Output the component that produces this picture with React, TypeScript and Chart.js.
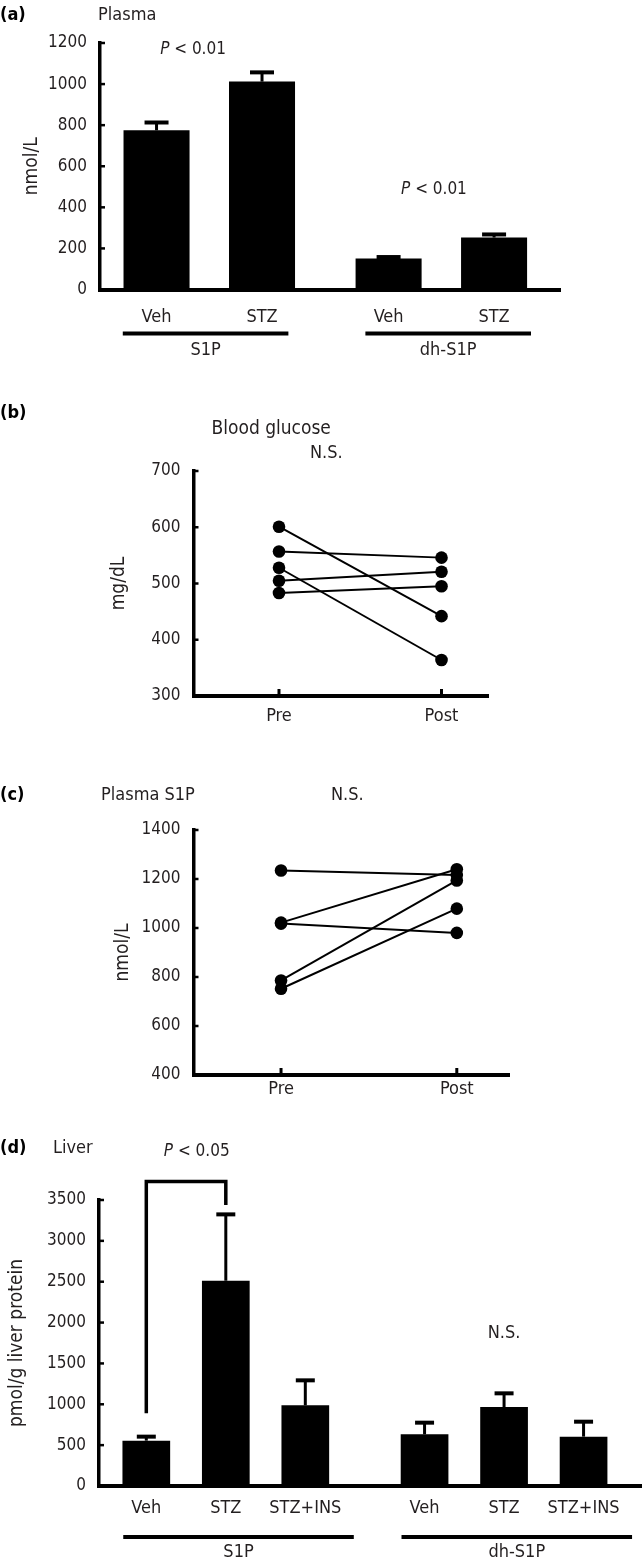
import React, { useEffect, useRef } from 'react';
import { Chart, registerables } from 'chart.js';

Chart.register(...registerables);

const FAM = '"DejaVu Sans Condensed", "DejaVu Sans", sans-serif';
const INK = '#000000';
const TXT = '#231f20';
const W = 642;

// ---------- Panel (a): plasma, nmol/L ----------
const aGroups = ['S1P', 'dh-S1P'];
const aTreatments = ['Veh', 'STZ'];
const aVehMean = [775, 151];
const aVehSem = [38, 7];
const aStzMean = [1012, 253];
const aStzSem = [45, 15];
const aYTicks = [0, 200, 400, 600, 800, 1000, 1200];
const aPText = ['< 0.01', '< 0.01'];
const aPAt = [{ x: 0.346, y: 1170 }, { x: 2.63, y: 488 }];
const aGroupSpan = [[-0.32, 0.25], [-0.22, 0.35]];

// ---------- Panel (b): blood glucose, mg/dL ----------
const bTimepoints = ['Pre', 'Post'];
const bPre = [601, 557, 528, 505, 483];
const bPost = [442, 546, 364, 521, 495];
const bYTicks = [300, 400, 500, 600, 700];

// ---------- Panel (c): plasma S1P, nmol/L ----------
const cTimepoints = ['Pre', 'Post'];
const cPre = [1235, 1022, 1018, 786, 752];
const cPost = [1216, 1240, 980, 1194, 1079];
const cYTicks = [400, 600, 800, 1000, 1200, 1400];

// ---------- Panel (d): liver, pmol/g liver protein ----------
const dGroups = ['S1P', 'dh-S1P'];
const dTreatments = ['Veh', 'STZ', 'STZ+INS'];
const dS1PMean = [555, 2512, 987];
const dS1PSem = [49, 812, 306];
const dDhMean = [632, 967, 604];
const dDhSem = [143, 167, 183];
const dYTicks = [0, 500, 1000, 1500, 2000, 2500, 3000, 3500];
const dBracket = { from: 0, to: 1, top: 3726, leftEnd: 889, rightEnd: 3439 };
const dPAt = { x: 0.634, y: 4087 };
const dNSAt = { x: 4.5, y: 1872 };
const dGroupSpan = [[-0.29, 0.61], [-0.29, 0.61]];

// ---------- derived series (built from the arrays above) ----------
const aGap = 0.2;
const aPos = (g: number, i: number) => g * (aTreatments.length + aGap) + i;
const aSeries = [aVehMean, aStzMean];
const aSems = [aVehSem, aStzSem];
const aPoints = aGroups.flatMap((_g, g) => aTreatments.map((_t, i) => ({ x: aPos(g, i), y: aSeries[i][g] })));
const aSem = aGroups.flatMap((_g, g) => aTreatments.map((_t, i) => aSems[i][g]));
const aTickLabels = aGroups.flatMap(() => aTreatments);

const dGap = 0.5;
const dPos = (g: number, i: number) => g * (dTreatments.length + dGap) + i;
const dPoints = [dS1PMean, dDhMean].flatMap((arr, g) => arr.map((v, i) => ({ x: dPos(g, i), y: v })));
const dSem = [...dS1PSem, ...dDhSem];
const dTickLabels = dGroups.flatMap(() => dTreatments);

// ---------- drawing helpers ----------
function txt(ctx: any, s: string, x: number, y: number, size: number, opts: any = {}) {
  ctx.save();
  ctx.font = `${opts.style || 'normal'} ${opts.weight || 'normal'} ${size}px ${FAM}`;
  ctx.fillStyle = opts.color || TXT;
  ctx.textAlign = opts.align || 'left';
  ctx.textBaseline = 'middle';
  ctx.fillText(s, x, y);
  ctx.restore();
}

function pValue(ctx: any, rest: string, x: number, y: number, size: number, align: string) {
  ctx.save();
  ctx.font = `italic normal ${size}px ${FAM}`;
  const wP = ctx.measureText('P').width;
  ctx.font = `normal normal ${size}px ${FAM}`;
  const wR = ctx.measureText(' ' + rest).width;
  const x0 = align === 'center' ? x - (wP + wR) / 2 : x;
  ctx.fillStyle = TXT;
  ctx.textBaseline = 'middle';
  ctx.textAlign = 'left';
  ctx.font = `italic normal ${size}px ${FAM}`;
  ctx.fillText('P', x0, y);
  ctx.font = `normal normal ${size}px ${FAM}`;
  ctx.fillText(' ' + rest, x0 + wP, y);
  ctx.restore();
}

function seg(ctx: any, x1: number, y1: number, x2: number, y2: number, w: number) {
  ctx.save();
  ctx.strokeStyle = INK;
  ctx.lineWidth = w;
  ctx.lineCap = 'butt';
  ctx.beginPath();
  ctx.moveTo(x1, y1);
  ctx.lineTo(x2, y2);
  ctx.stroke();
  ctx.restore();
}

function innerYTicks(chart: any) {
  const { ctx, chartArea, scales } = chart;
  const y = scales.y;
  y.ticks.forEach((t: any) => {
    const py = y.getPixelForValue(t.value);
    seg(ctx, chartArea.left, py, chartArea.left + 5, py, 2.5);
  });
}

function errorBars(chart: any, di: number, errs: number[], capW: number) {
  const { ctx } = chart;
  const meta = chart.getDatasetMeta(di);
  const y = chart.scales.y;
  const ds = chart.data.datasets[di];
  meta.data.forEach((el: any, i: number) => {
    const raw = ds.data[i];
    const v = typeof raw === 'number' ? raw : raw.y;
    const top = y.getPixelForValue(v + errs[i]);
    seg(ctx, el.x, el.y, el.x, top, 3);
    seg(ctx, el.x - capW / 2, top, el.x + capW / 2, top, 4);
  });
}

function groupBars(chart: any, groups: string[], pos: (g: number, i: number) => number, n: number, span: number[][], lineDy: number, nameDy: number) {
  const { ctx, chartArea: ca, scales } = chart;
  groups.forEach((g, gi) => {
    const xs = scales.x.getPixelForValue(pos(gi, 0) + span[gi][0]);
    const xe = scales.x.getPixelForValue(pos(gi, n - 1) + span[gi][1]);
    seg(ctx, xs, ca.bottom + lineDy, xe, ca.bottom + lineDy, 4);
    txt(ctx, g, (xs + xe) / 2, ca.bottom + nameDy, 18, { align: 'center' });
  });
}

const baseOpts = {
  animation: false,
  responsive: false,
  devicePixelRatio: 1,
  events: [],
  plugins: { legend: { display: false }, tooltip: { enabled: false }, title: { display: false } },
};

const tickFont = { family: FAM, size: 17 };
const labelFont = { family: FAM, size: 18 };
const titleFont = { family: FAM, size: 19 };

function yScale(ticks: number[], title: string, titleX: number, width: number) {
  return {
    min: ticks[0],
    max: ticks[ticks.length - 1],
    afterBuildTicks: (s: any) => { s.ticks = ticks.map((v) => ({ value: v })); },
    ticks: { color: TXT, font: tickFont, padding: 13, callback: (v: number) => String(v) },
    grid: { display: false, drawTicks: false },
    border: { display: true, width: 3.5, color: INK },
    title: { display: true, text: title, color: TXT, font: titleFont, padding: { top: titleX - 11.4, bottom: 0 } },
    afterFit: (s: any) => { s.width = width; },
  };
}

function xBarScale(points: { x: number }[], labels: string[], min: number, max: number, pad: number, height: number) {
  return {
    type: 'linear',
    min,
    max,
    offset: false,
    afterBuildTicks: (s: any) => { s.ticks = points.map((p) => ({ value: p.x })); },
    ticks: { callback: (_v: number, i: number) => labels[i], color: TXT, font: labelFont, padding: pad, maxRotation: 0, autoSkip: false },
    grid: { display: false, drawTicks: false, offset: false },
    border: { display: true, width: 4, color: INK },
    afterFit: (s: any) => { s.height = height; },
  };
}

// ---------- chart builders ----------
function buildA() {
  const H = 375;
  const bottom = 289.5;
  return {
    type: 'bar',
    data: {
      datasets: [
        { data: aPoints, backgroundColor: INK, borderWidth: 0, categoryPercentage: 1, barPercentage: 0.626 },
      ],
    },
    options: {
      ...baseOpts,
      layout: { autoPadding: false, padding: { left: 0, top: 43, right: W - 560, bottom: 0 } },
      scales: {
        x: xBarScale(aPoints, aTickLabels, -0.536, 3.825, 17.5, H - bottom),
        y: yScale(aYTicks, 'nmol/L', 32, 100),
      },
    },
    plugins: [
      {
        id: 'annotA',
        afterDraw(chart: any) {
          const { ctx, scales } = chart;
          errorBars(chart, 0, aSem, 24);
          innerYTicks(chart);
          groupBars(chart, aGroups, aPos, aTreatments.length, aGroupSpan, 44, 61);
          aPAt.forEach((p, i) => {
            pValue(ctx, aPText[i], scales.x.getPixelForValue(p.x), scales.y.getPixelForValue(p.y), 17, 'center');
          });
          txt(ctx, '(a)', 0, 15, 18, { weight: 'bold', color: INK });
          txt(ctx, 'Plasma', 98, 15, 18);
        },
      },
    ],
  };
}

function buildPaired(cfg: any) {
  const { labels, pre, post, yTicks, yTitle, titleX, left, right, top, bottom, H, xMin, xMax, labelPad, header } = cfg;
  return {
    type: 'line',
    data: {
      datasets: pre.map((v: number, i: number) => ({
        data: [{ x: 0, y: v }, { x: 1, y: post[i] }],
        borderColor: INK,
        borderWidth: 2,
        pointRadius: 6.3,
        pointBackgroundColor: INK,
        pointBorderColor: INK,
        pointBorderWidth: 0,
        fill: false,
        tension: 0,
      })),
    },
    options: {
      ...baseOpts,
      layout: { autoPadding: false, padding: { left: 0, top, right: W - right, bottom: 0 } },
      scales: {
        x: {
          type: 'linear',
          min: xMin,
          max: xMax,
          offset: false,
          afterBuildTicks: (s: any) => { s.ticks = labels.map((_: string, i: number) => ({ value: i })); },
          ticks: { callback: (v: number) => labels[v], color: TXT, font: labelFont, padding: labelPad, maxRotation: 0, autoSkip: false },
          grid: { display: false, drawTicks: false },
          border: { display: true, width: 4, color: INK },
          afterFit: (s: any) => { s.height = H - bottom; },
        },
        y: yScale(yTicks, yTitle, titleX, left),
      },
    },
    plugins: [
      {
        id: 'annotPaired',
        afterDraw(chart: any) {
          const { ctx, chartArea: ca, scales } = chart;
          innerYTicks(chart);
          labels.forEach((_: string, i: number) => {
            const px = scales.x.getPixelForValue(i);
            seg(ctx, px, ca.bottom, px, ca.bottom - 7, 3);
          });
          header(ctx);
        },
      },
    ],
  };
}

function buildB() {
  return buildPaired({
    labels: bTimepoints, pre: bPre, post: bPost, yTicks: bYTicks, yTitle: 'mg/dL', titleX: 119,
    left: 193.5, right: 488, top: 91, bottom: 316, H: 355, xMin: -0.526, xMax: 1.286, labelPad: 10,
    header: (ctx: any) => {
      txt(ctx, '(b)', 0, 33, 18, { weight: 'bold', color: INK });
      txt(ctx, 'Blood glucose', 211.5, 49, 19);
      txt(ctx, 'N.S.', 310, 73, 18);
    },
  });
}

function buildC() {
  return buildPaired({
    labels: cTimepoints, pre: cPre, post: cPost, yTicks: cYTicks, yTitle: 'nmol/L', titleX: 123.5,
    left: 193.5, right: 509, top: 70, bottom: 315, H: 350, xMin: -0.498, xMax: 1.297, labelPad: 4,
    header: (ctx: any) => {
      txt(ctx, '(c)', 0, 35, 18, { weight: 'bold', color: INK });
      txt(ctx, 'Plasma S1P', 101, 35, 18);
      txt(ctx, 'N.S.', 331, 35, 18);
    },
  });
}

function buildD() {
  const H = 444;
  const bottom = 366;
  return {
    type: 'bar',
    data: {
      datasets: [
        { data: dPoints, backgroundColor: INK, borderWidth: 0, categoryPercentage: 1, barPercentage: 0.6 },
      ],
    },
    options: {
      ...baseOpts,
      layout: { autoPadding: false, padding: { left: 0, top: 80, right: 0, bottom: 0 } },
      scales: {
        x: xBarScale(dPoints, dTickLabels, -0.595, 6.235, 12, H - bottom),
        y: yScale(dYTicks, 'pmol/g liver protein', 17.5, 99),
      },
    },
    plugins: [
      {
        id: 'annotD',
        afterDraw(chart: any) {
          const { ctx, scales } = chart;
          const x = scales.x;
          const y = scales.y;
          errorBars(chart, 0, dSem, 19);
          innerYTicks(chart);
          groupBars(chart, dGroups, dPos, dTreatments.length, dGroupSpan, 51, 66);
          // significance bracket
          ctx.save();
          ctx.strokeStyle = INK;
          ctx.lineWidth = 3.5;
          ctx.lineJoin = 'miter';
          ctx.beginPath();
          ctx.moveTo(x.getPixelForValue(dBracket.from), y.getPixelForValue(dBracket.leftEnd));
          ctx.lineTo(x.getPixelForValue(dBracket.from), y.getPixelForValue(dBracket.top));
          ctx.lineTo(x.getPixelForValue(dBracket.to), y.getPixelForValue(dBracket.top));
          ctx.lineTo(x.getPixelForValue(dBracket.to), y.getPixelForValue(dBracket.rightEnd));
          ctx.stroke();
          ctx.restore();
          pValue(ctx, '< 0.05', x.getPixelForValue(dPAt.x), y.getPixelForValue(dPAt.y), 17, 'center');
          txt(ctx, 'N.S.', x.getPixelForValue(dNSAt.x), y.getPixelForValue(dNSAt.y), 18, { align: 'center' });
          txt(ctx, '(d)', 0, 28, 18, { weight: 'bold', color: INK });
          txt(ctx, 'Liver', 53, 28, 18);
        },
      },
    ],
  };
}

function Panel({ top, height, build }: { top: number; height: number; build: () => any }) {
  const ref = useRef<HTMLCanvasElement | null>(null);
  useEffect(() => {
    if (!ref.current) return;
    const chart = new Chart(ref.current, build());
    return () => chart.destroy();
  }, [build]);
  return (
    <canvas
      ref={ref}
      width={W}
      height={height}
      style={{ position: 'absolute', left: 0, top, width: W, height, display: 'block' }}
    />
  );
}

export default function App() {
  return (
    <div style={{ position: 'absolute', left: 0, top: 0, width: W, height: 1564, background: '#ffffff', overflow: 'hidden' }}>
      <Panel top={0} height={375} build={buildA} />
      <Panel top={380} height={355} build={buildB} />
      <Panel top={760} height={350} build={buildC} />
      <Panel top={1120} height={444} build={buildD} />
    </div>
  );
}
